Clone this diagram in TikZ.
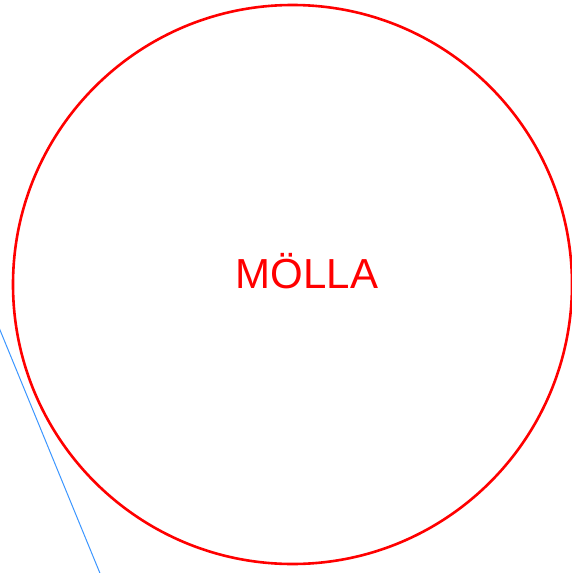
\documentclass[tikz,border=0pt]{standalone}
\usepackage{fontspec}
\setmainfont{Liberation Sans}
\definecolor{circred}{RGB}{255,0,0}
\definecolor{lineblue}{RGB}{60,150,255}
\begin{document}
\begin{tikzpicture}[x=1pt,y=-1pt,
  ring/.style={draw=circred,line width=2.6pt,circle,minimum size=559pt,inner sep=0pt},
  label/.style={text=circred,font=\fontsize{42}{42}\selectfont,inner sep=0pt,anchor=base}]
\useasboundingbox (0,0) rectangle (572,573);
\node[ring] (c) at (292.5,284.5) {};
\node[label] (t) at (307,288) {MÖLLA};
\coordinate (b1) at (-10,305.7);
\coordinate (b2) at (104,583);
\draw[lineblue,line width=1pt] (b1) -- (b2);
\end{tikzpicture}
\end{document}
